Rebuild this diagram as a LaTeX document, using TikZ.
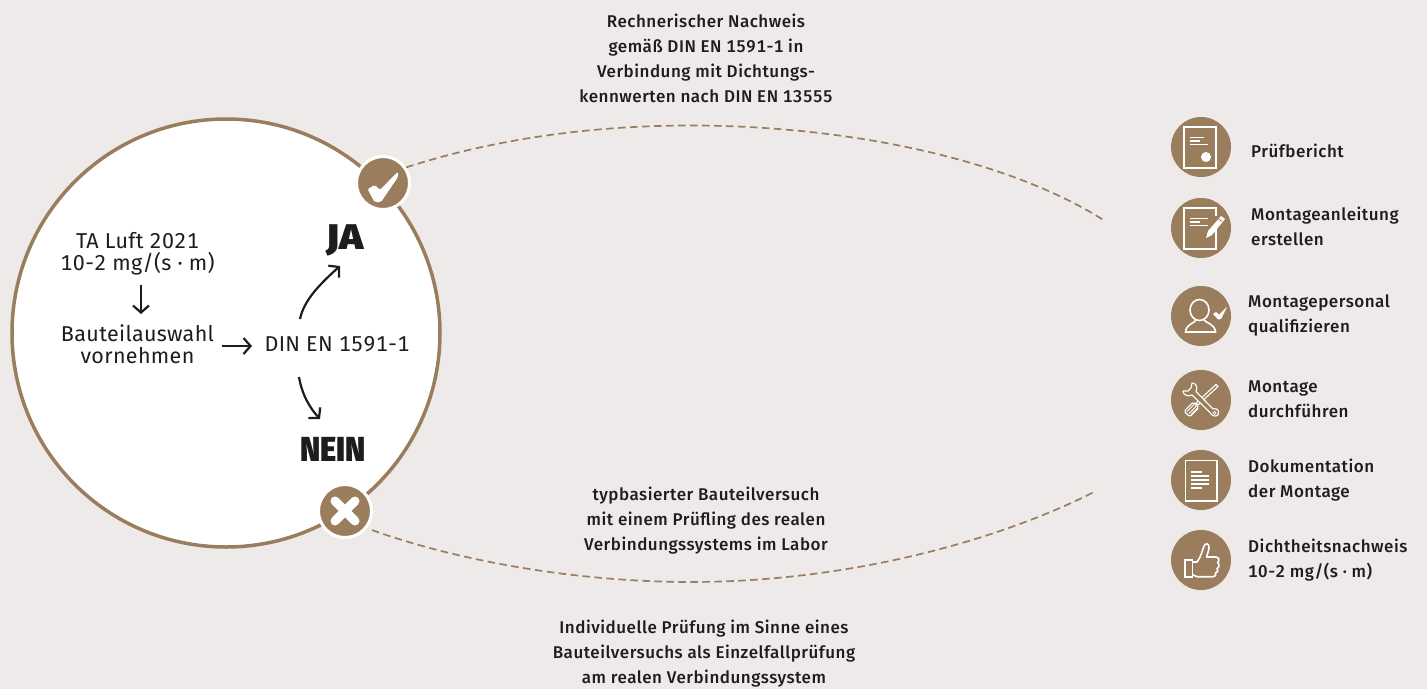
\documentclass[tikz,border=0pt]{standalone}
\usepackage{fontspec}
\setmainfont{Fira Sans}[UprightFont=* Medium,Numbers=Monospaced]
\newfontfamily\heavyfont{Fira Sans}[UprightFont=* Black]
\newfontfamily\sidefont{Fira Sans}[UprightFont=* Medium,Numbers=Monospaced,LetterSpace=3]
\newfontfamily\innerfont{Fira Sans}[UprightFont=*,Numbers=Monospaced,LetterSpace=1.6]
\usetikzlibrary{arrows.meta}
\definecolor{bgc}{HTML}{EEEAE9}
\definecolor{brownc}{HTML}{9A7D5D}
\definecolor{inkc}{HTML}{1D1D1B}
\tikzset{
  inner/.style={font=\innerfont\fontsize{21.5}{22}\selectfont,text=inkc,align=center,inner sep=0pt},
  side/.style={font=\sidefont\fontsize{17}{25}\selectfont,text=inkc,align=center,inner sep=0pt},
  lab/.style={font=\sidefont\fontsize{17}{25}\selectfont,text=inkc,align=left,inner sep=0pt,anchor=west},
  shout/.style={font=\heavyfont\fontsize{31}{31}\selectfont,text=inkc,inner sep=0pt},
  badge/.style={circle,fill=brownc,draw=white,line width=3pt,minimum size=53pt,inner sep=0pt},
  iconbg/.style={circle,fill=brownc,minimum size=60pt,inner sep=0pt},
  flow/.style={draw=inkc,line width=2.2pt,-{Straight Barb[length=7pt,width=16pt,line width=2.2pt]}},
  dashline/.style={draw=brownc,line width=1.7pt,dash pattern=on 7.5pt off 4.5pt},
  ico/.style={draw=white,line width=1.6pt,fill=none},
  tool/.style={draw=white,line width=1.1pt,fill=brownc,line join=round},
}
\begin{document}
\begin{tikzpicture}[x=1pt,y=-1pt]
\useasboundingbox (0,0) rectangle (1427,689);
\fill[bgc] (0,0) rectangle (1427,689);

\node[circle,fill=white,draw=brownc,line width=3.5pt,minimum size=428pt,inner sep=0pt] (main) at (226,333) {};

\node[badge] (yes) at (383,183) {};
\node[badge] (no) at (345,511) {};
\fill[white,rounded corners=1.5pt] (367.5,189) -- (375,185) -- (380,190) -- (398,171.5) -- (398,177) -- (381,202) -- (374.5,202) -- cycle;
\draw[white,line width=9pt,line cap=round] (335,501) -- (355,521) (355,501) -- (335,521);

\node[inner] (ta) at (137.5,254) {TA Luft 2021\\10-2 mg/(s · m)};
\node[inner] (bau) at (137.5,344.5) {Bauteilauswahl\\vornehmen};
\node[inner] (din) at (337,344) {DIN EN 1591-1};
\node[shout,xscale=1.3,yscale=1.15] (ja) at (345,240) {JA};
\node[shout,yscale=1.12] (nein) at (333,449) {NEIN};

\draw[flow] ([xshift=3.5pt,yshift=-31pt]ta.center) -- ([xshift=3.5pt,yshift=30.5pt]bau.center);
\draw[flow] ([xshift=84.5pt,yshift=-1.5pt]bau.center) -- ([xshift=-85pt,yshift=-2pt]din.center);
\draw[flow] ([xshift=-37pt,yshift=25pt]din.center) .. controls (304,300) and (320,284) .. ([xshift=-5pt,yshift=-26pt]ja.center);
\draw[flow] ([xshift=-38pt,yshift=-33pt]din.center) .. controls (302,395) and (310,408) .. ([xshift=-13pt,yshift=30pt]nein.center);

\coordinate (upmid) at (690,125.5);
\coordinate (upend) at (1105,221);
\coordinate (lowmid) at (690,582);
\coordinate (lowend) at (1096,491);
\draw[dashline] (yes.34) .. controls (500,137) and (600,125.5) .. (upmid) .. controls (850,125.5) and (1010,160) .. (upend);
\draw[dashline] ([xshift=4pt,yshift=-3pt]no.-35) .. controls (470,565) and (590,582) .. (lowmid) .. controls (850,582) and (1000,540) .. (lowend);

\node[side] (t1) at (706,58.5) {Rechnerischer Nachweis\\gemäß DIN EN 1591-1 in\\Verbindung mit Dichtungs-\\kennwerten nach DIN EN 13555};
\node[side] (t2) at (706,521) {typbasierter Bauteilversuch\\mit einem Prüfling des realen\\Verbindungssystems im Labor};
\node[side] (t3) at (704,654) {Individuelle Prüfung im Sinne eines\\Bauteilversuchs als Einzelfallprüfung\\am realen Verbindungssystem};

\node[iconbg] (i1) at (1201,147) {};
\node[iconbg] (i2) at (1201,228) {};
\node[iconbg] (i3) at (1201,316) {};
\node[iconbg] (i4) at (1201,400) {};
\node[iconbg] (i5) at (1201,480) {};
\node[iconbg] (i6) at (1201,560) {};

\node[lab] (l1) at (1251,151) {Prüfbericht};
\node[lab] (l2) at (1251,226.5) {Montageanleitung\\erstellen};
\node[lab] (l3) at (1248,315) {Montagepersonal\\qualifizieren};
\node[lab] (l4) at (1248,399.5) {Montage\\durchführen};
\node[lab] (l5) at (1248,480.5) {Dokumentation\\der Montage};
\node[lab] (l6) at (1248,560.5) {Dichtheitsnachweis\\10-2 mg/(s · m)};

% icon 1: report
\begin{scope}[shift={(i1)}]
\draw[ico] (-17,-20) rectangle (15,21);
\draw[white,line width=1.2pt] (-11,-9.5) -- (3,-9.5) (-11,-6) -- (-1,-6) (-11,-2.5) -- (7,-2.5);
\fill[white] (5,10) circle (5);
\end{scope}
% icon 2: instructions
\begin{scope}[shift={(i2)}]
\draw[ico] (15,-1) -- (15,21) -- (-17,21) -- (-17,-20) -- (15,-20) -- (15,-12);
\draw[white,line width=1.2pt] (-11,-9.5) -- (7,-9.5) (-11,-6) -- (-1,-6) (-11,-2.5) -- (7,-2.5);
\fill[white] (5,10) -- (7,3) -- (20,-12) -- (24,-9) -- (11,7) -- cycle;
\fill[brownc] (17.2,-8.8) -- (20.5,-6.2) -- (21,-6.8) -- (17.8,-9.4) -- cycle;
\end{scope}
% icon 3: person
\begin{scope}[shift={(i3)}]
\draw[ico] (-1.5,-6) ellipse (9.5 and 10.5);
\draw[ico] (-5,4) .. controls (-6,7) and (-15,8) .. (-15.5,16) -- (14.5,16) .. controls (14,8) and (5,7) .. (3,4);
\fill[white] (12,-2) -- (15,-4) -- (18,-1.5) -- (26,-9) -- (20,3) -- (17,3.5) -- cycle;
\end{scope}
% icon 4: tools
\begin{scope}[shift={(i4)}]
\draw[tool] (15,-15.5) -- (17,-13.5) -- (-3,5) -- (-5,3) -- cycle;
\draw[tool,rounded corners=1.5pt] (-2.2,7.8) -- (-7.8,2.2) -- (-16.8,11.2) -- (-11.2,16.8) -- cycle;
\draw[white,line width=.8pt] (-5,6.5) -- (-12,13.5) (-7,4.5) -- (-14,11.5) (-3.5,8) -- (-10,14.5);
\draw[tool] (-5,-8.5) .. controls (-3,-13) and (-5,-17) .. (-9,-17) -- (-10,-12) -- (-13,-9) -- (-18,-9)
  .. controls (-18,-5) and (-13,-3) .. (-9,-5) -- (8.5,12) .. controls (11,18) and (19,17) .. (17.5,12) .. controls (18,9) and (13,8) .. (12,9) -- cycle;
\draw[white,line width=.8pt] (13.5,13) circle (1.6);
\end{scope}
% icon 5: documentation
\begin{scope}[shift={(i5)}]
\draw[ico] (-15.5,-19.5) rectangle (16,21);
\draw[white,line width=1.3pt] (-10,-8) -- (1,-8) (-10,-4) -- (8,-4) (-10,0) -- (8,0) (-10,4) -- (8,4) (-10,8) -- (1,8);
\end{scope}
% icon 6: thumb
\begin{scope}[shift={(i6)}]
\draw[ico] (-16,0) rectangle (-8.7,16.7);
\draw[ico,line join=round] (-8.7,2) -- (-4,2) .. controls (0,-3) and (1,-9) .. (3,-14) .. controls (4,-17) and (8,-17) .. (8,-13) .. controls (8,-9) and (6,-6) .. (5.5,-3) -- (15,-3) .. controls (18,-3) and (19,1) .. (16.5,2.5) .. controls (19,4) and (18,8) .. (16,8.5) .. controls (17.5,10) and (17,13) .. (14.5,13) .. controls (15.5,15) and (14.5,16.7) .. (12,16.7) -- (-4,16.7) -- (-8.7,14.5);
\end{scope}
\end{tikzpicture}
\end{document}
